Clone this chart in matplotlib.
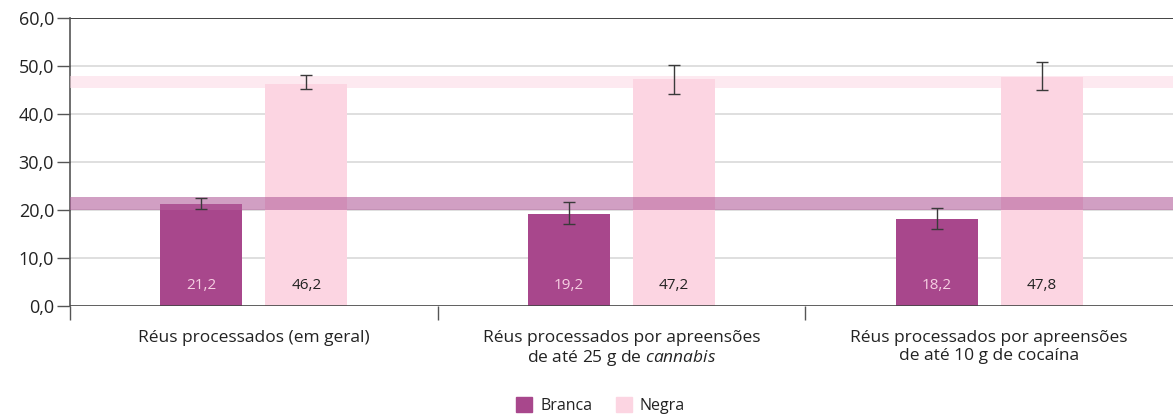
import numpy as np
import matplotlib.pyplot as plt
from matplotlib.patches import Patch

plt.rcParams['font.family'] = ['Open Sans', 'DejaVu Sans']
plt.rcParams['mathtext.fontset'] = 'custom'
plt.rcParams['mathtext.it'] = 'Open Sans:italic'
plt.rcParams['mathtext.rm'] = 'Open Sans'

categories = ['Réus processados (em geral)',
              'Réus processados por apreensões\nde até 25 g de $\\mathit{cannabis}$',
              'Réus processados por apreensões\nde até 10 g de cocaína']
branca = [21.2, 19.2, 18.2]
negra = [46.2, 47.2, 47.8]
branca_lo = [20.2, 17.1, 16.0]
branca_hi = [22.5, 21.7, 20.5]
negra_lo = [45.2, 44.1, 45.0]
negra_hi = [48.1, 50.2, 50.8]
branca_band = (20.0, 22.7)
negra_band = (45.4, 47.9)
yticks = [0, 10, 20, 30, 40, 50, 60]

c_branca = '#a8478c'
c_negra = '#fcd5e2'
txt = '#222222'

fig = plt.figure(figsize=(11.73, 4.16), dpi=100)
ax = fig.add_axes([70 / 1173, 110 / 416, 1 - 70 / 1173, 288 / 416])

x = np.arange(len(categories))
w = 0.223
off = 0.143

ax.bar(x - off, branca, w, color=c_branca, zorder=2)
ax.bar(x + off, negra, w, color=c_negra, zorder=2)

ax.axhspan(*branca_band, color='#b3609b', alpha=0.6, lw=0, zorder=3)
ax.axhspan(*negra_band, color='#fcd5e2', alpha=0.5, lw=0, zorder=3)

for xs, vals, lo, hi in [(x - off, branca, branca_lo, branca_hi),
                         (x + off, negra, negra_lo, negra_hi)]:
    mid = (np.array(lo) + np.array(hi)) / 2
    err = (np.array(hi) - np.array(lo)) / 2
    ax.errorbar(xs, mid, yerr=err, fmt='none', ecolor='#3a3a3a',
                elinewidth=1, capsize=4.5, capthick=1, zorder=4)

for i in range(len(categories)):
    ax.text(x[i] - off, 4.3, f'{branca[i]:.1f}'.replace('.', ','), ha='center',
            va='center', color='#f6cfe2', fontsize=11, zorder=5)
    ax.text(x[i] + off, 4.3, f'{negra[i]:.1f}'.replace('.', ','), ha='center',
            va='center', color=txt, fontsize=11, zorder=5)

ax.set_xlim(-0.5, 2.5)
ax.set_ylim(0, 60)
ax.set_yticks(yticks)
ax.set_yticklabels([f'{v:.1f}'.replace('.', ',') for v in yticks],
                   fontsize=13, color=txt)
ax.tick_params(axis='y', length=9.5, width=1, color='#555555', pad=2)
for v in yticks[1:-1]:
    ax.axhline(v, color='#d9d9d9', lw=1.2, zorder=1)
ax.axhline(60, color='#222222', lw=1.2, zorder=1)
ax.axhline(0, color='#444444', lw=1.2, zorder=6)

ax.set_xticks(x)
ax.set_xticklabels(categories, fontsize=12.5, color=txt, linespacing=1.2)
ax.tick_params(axis='x', which='major', length=0, pad=17)
ax.set_xticks([-0.5, 0.5, 1.5], minor=True)
ax.tick_params(axis='x', which='minor', length=10, width=1, color='#555555')

for s in ['top', 'right', 'bottom']:
    ax.spines[s].set_visible(False)
ax.spines['left'].set_color('#555555')
ax.spines['left'].set_linewidth(1.2)

handles = [Patch(color=c_branca, label='Branca'), Patch(color=c_negra, label='Negra')]
fig.legend(handles=handles, loc='lower center', bbox_to_anchor=(0.512, -0.03), ncol=2,
           frameon=False, fontsize=11.5, handlelength=1.0, handleheight=1.0,
           columnspacing=1.5, handletextpad=0.5, labelcolor=txt)

fig.savefig('out.png', dpi=100)
